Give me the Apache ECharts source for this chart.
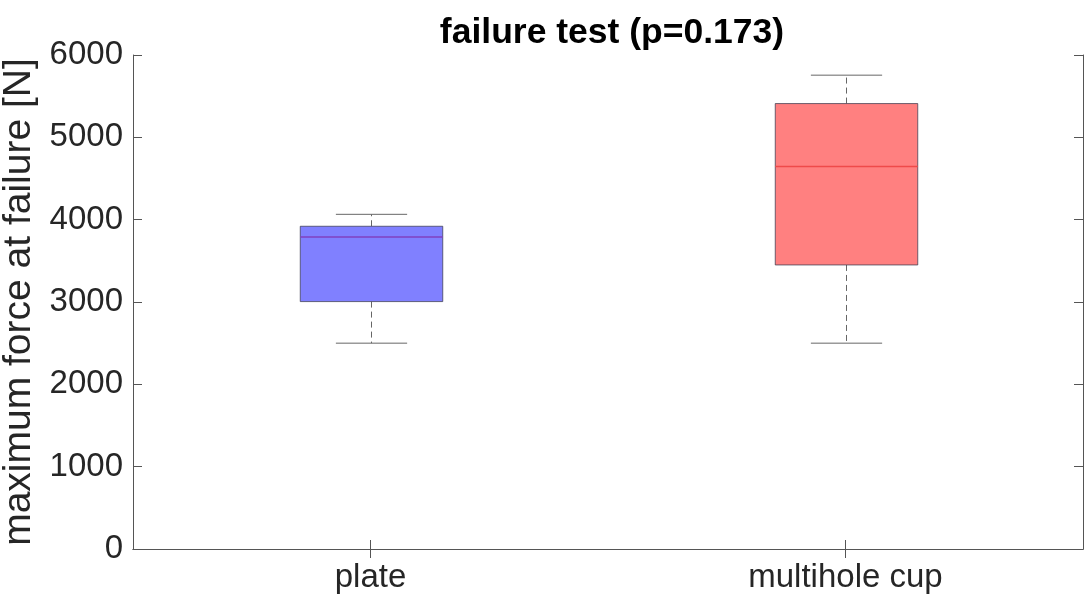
<!DOCTYPE html>
<html>
<head>
<meta charset="utf-8">
<script src="https://cdn.jsdelivr.net/npm/echarts@6/dist/echarts.min.js"></script>
<style>html,body{margin:0;padding:0;background:#fff;}#c{width:1089px;height:597px;}</style>
</head>
<body>
<div id="c"></div>
<script>
const categories = ['plate', 'multihole cup'];
// [lower whisker, Q1, median, Q3, upper whisker]
const plateStats = [2500, 3005, 3790, 3920, 4065];
const cupStats = [2500, 3450, 4645, 5410, 5755];
const yTicks = [0, 1000, 2000, 3000, 4000, 5000, 6000];
const fillColors = ['#8080ff', '#ff8080'];
const medianColors = ['#8040c0', '#ef4a4a'];

const FONT = "'Liberation Sans', Arial, Helvetica, sans-serif";
const chart = echarts.init(document.getElementById('c'));

const boxData = [[0].concat(plateStats), [1].concat(cupStats)];

function renderItem(params, api) {
  const xi = api.value(0);
  const lo = api.coord([xi, api.value(1)]);
  const q1 = api.coord([xi, api.value(2)]);
  const md = api.coord([xi, api.value(3)]);
  const q3 = api.coord([xi, api.value(4)]);
  const hi = api.coord([xi, api.value(5)]);
  const bw = api.size([1, 0])[0];
  const half = bw * 0.15;
  const cap = bw * 0.075;
  const cx = md[0] + 1;
  const i = params.dataIndex;
  const wStyle = {stroke: '#666', lineWidth: 1, lineDash: [6, 4]};
  const cStyle = {stroke: '#666', lineWidth: 1};
  return {
    type: 'group',
    children: [
      {type: 'line', shape: {x1: cx, y1: q3[1], x2: cx, y2: hi[1]}, style: wStyle},
      {type: 'line', shape: {x1: cx, y1: q1[1], x2: cx, y2: lo[1]}, style: wStyle},
      {type: 'line', shape: {x1: cx - cap, y1: hi[1], x2: cx + cap, y2: hi[1]}, style: cStyle},
      {type: 'line', shape: {x1: cx - cap, y1: lo[1], x2: cx + cap, y2: lo[1]}, style: cStyle},
      {type: 'rect', shape: {x: cx - half, y: q3[1], width: half * 2, height: q1[1] - q3[1]},
        style: {fill: fillColors[i], stroke: 'rgba(60,60,80,0.75)', lineWidth: 1}},
      {type: 'line', shape: {x1: cx - half, y1: md[1], x2: cx + half, y2: md[1]},
        style: {stroke: medianColors[i], lineWidth: 1.5}}
    ]
  };
}

const axisLine = {show: true, lineStyle: {color: '#555', width: 1}};
const option = {
  backgroundColor: '#fff',
  animation: false,
  title: {
    text: 'failure test (p=0.173)',
    left: 607, textAlign: 'center', top: 10,
    textStyle: {fontFamily: FONT, fontSize: 35.5, fontWeight: 'bold', color: '#000'}
  },
  grid: {left: 133, right: 6, top: 55, bottom: 48, containLabel: false, outerBoundsMode: 'none'},
  xAxis: [
    {type: 'category', data: categories, position: 'bottom', boundaryGap: true,
     axisLine: axisLine,
     axisTick: {show: true, inside: true, length: 9, alignWithLabel: true, lineStyle: {color: '#555'}},
     axisLabel: {fontFamily: FONT, fontSize: 33, color: '#262626', margin: 12},
     splitLine: {show: false}},
    {type: 'category', data: categories, position: 'top', boundaryGap: true,
     axisLine: axisLine,
     axisTick: {show: true, inside: true, length: 9, alignWithLabel: true, lineStyle: {color: '#555'}},
     axisLabel: {show: false}, splitLine: {show: false}}
  ],
  yAxis: [
    {type: 'value', min: yTicks[0], max: yTicks[yTicks.length - 1], interval: 1000, position: 'left',
     name: 'maximum force at failure [N]', nameLocation: 'middle', nameGap: 78,
     nameTextStyle: {fontFamily: FONT, fontSize: 39, color: '#262626'},
     axisLine: axisLine,
     axisTick: {show: true, inside: true, length: 9, lineStyle: {color: '#555'}},
     axisLabel: {fontFamily: FONT, fontSize: 33, color: '#262626', margin: 10,
                 formatter: function (v) { return String(v); }},
     splitLine: {show: false}},
    {type: 'value', min: yTicks[0], max: yTicks[yTicks.length - 1], interval: 1000, position: 'right',
     axisLine: axisLine,
     axisTick: {show: true, inside: true, length: 9, lineStyle: {color: '#555'}},
     axisLabel: {show: false}, splitLine: {show: false}}
  ],
  series: [{
    type: 'custom',
    xAxisIndex: 0, yAxisIndex: 0,
    renderItem: renderItem,
    encode: {x: 0, y: [1, 2, 3, 4, 5]},
    data: boxData
  }]
};
chart.setOption(option);
</script>
</body>
</html>
